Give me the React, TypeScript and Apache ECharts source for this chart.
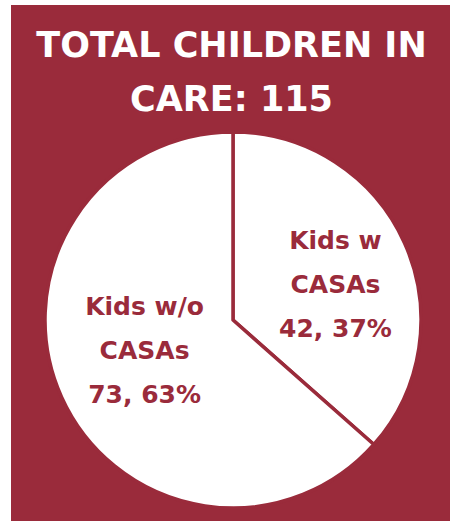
import React, { useEffect, useRef } from "react";
import * as echarts from "echarts";

const titleLines = ["TOTAL CHILDREN IN", "CARE: 115"];
const categories = ["Kids w\nCASAs", "Kids w/o\nCASAs"];
const values = [42, 73];
const labelOffsets = [[14, 4], [0, -9]];

const RED = "#9a2b3b";

export default function App() {
  const ref = useRef<HTMLDivElement>(null);
  useEffect(() => {
    if (!ref.current) return;
    const chart = echarts.init(ref.current, undefined, { renderer: "svg" });
    chart.setOption({
      animation: false,
      backgroundColor: "#ffffff",
      graphic: [
        { type: "rect", z: -10, shape: { x: 11, y: 5, width: 439, height: 516 }, style: { fill: RED } },
        ...titleLines.map((t, i) => ({
          type: "text",
          x: 231.5,
          y: 45 + i * 53.5,
          style: {
            text: t,
            fill: "#ffffff",
            font: "bold 35px 'DejaVu Sans'",
            textAlign: "center",
            textVerticalAlign: "middle",
          },
        })),
      ],
      series: [
        {
          type: "pie",
          center: [233, 320],
          radius: [0, 188],
          startAngle: 90,
          clockwise: true,
          percentPrecision: 0,
          avoidLabelOverlap: false,
          itemStyle: { color: "#ffffff", borderColor: RED, borderWidth: 3.5 },
          emphasis: { disabled: true },
          label: {
            show: true,
            position: "inside",
            formatter: "{b}\n{c}, {d}%",
            color: RED,
            fontFamily: "DejaVu Sans",
            fontWeight: "bold",
            fontSize: 25,
            lineHeight: 44,
            align: "center",
          },
          labelLine: { show: false },
          data: categories.map((name, i) => ({
            name,
            value: values[i],
            label: { offset: labelOffsets[i] },
          })),
        },
      ],
    });
    return () => chart.dispose();
  }, []);
  return (
    <div
      ref={ref}
      style={{ position: "fixed", left: 0, top: 0, width: 450, height: 521 }}
    />
  );
}
